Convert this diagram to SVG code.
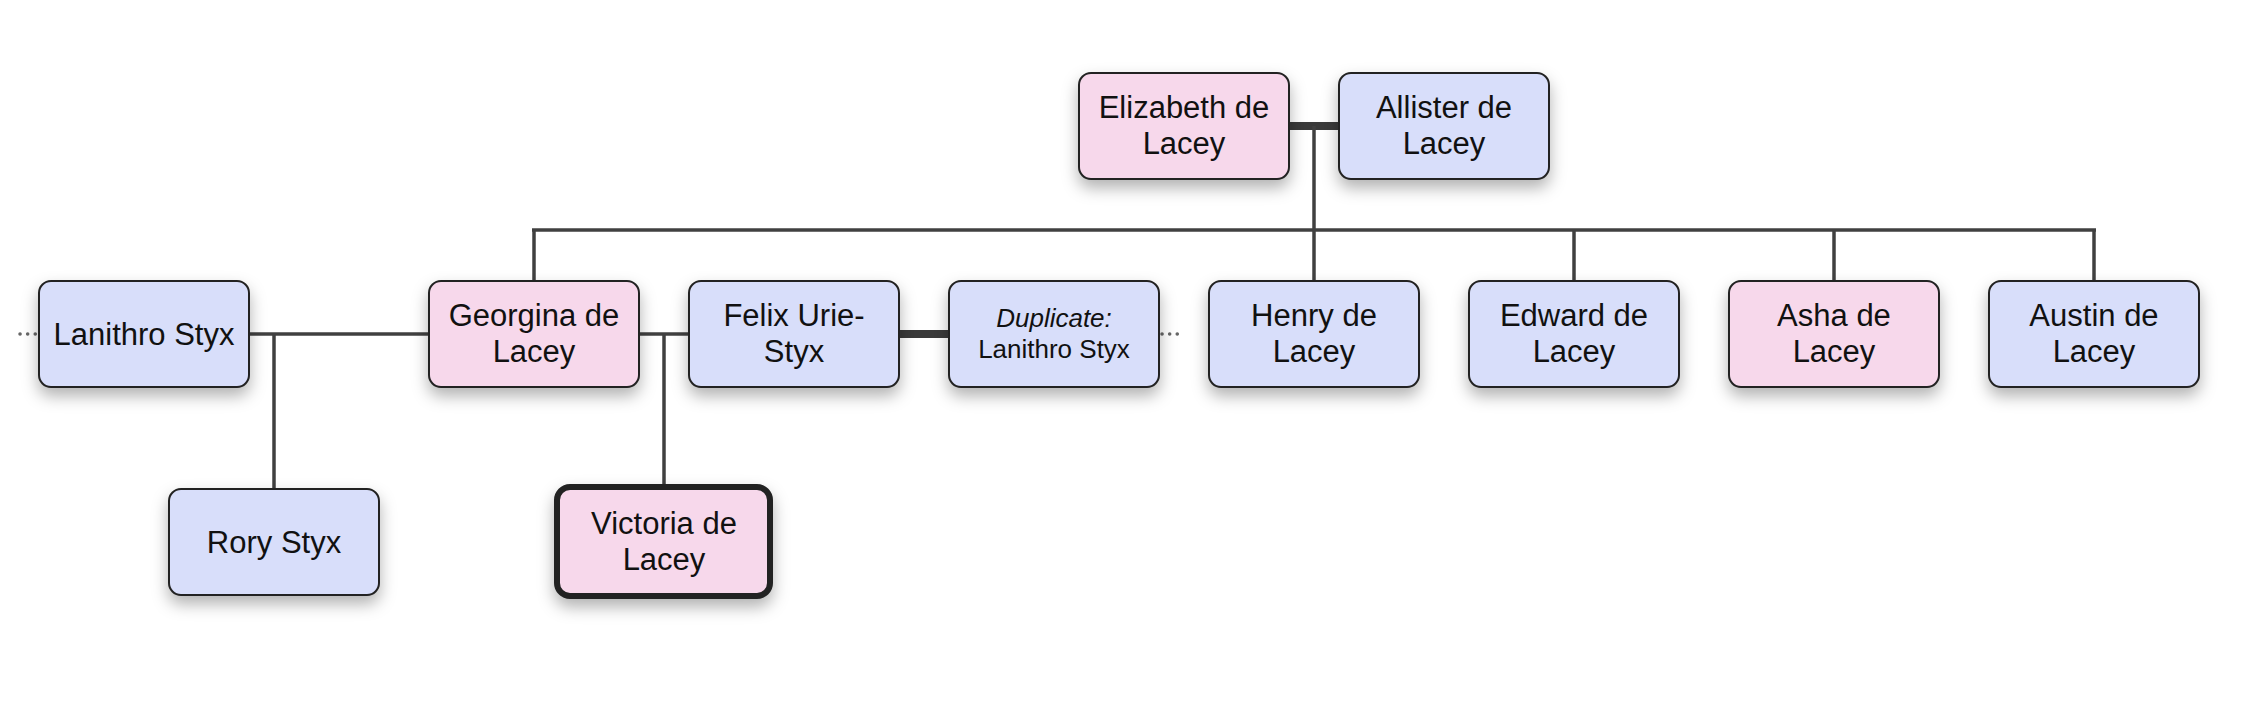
<svg xmlns="http://www.w3.org/2000/svg" width="2248" height="718" viewBox="0 0 2248 718">
<defs>
<filter id="sh" x="-20%" y="-20%" width="140%" height="160%">
<feDropShadow dx="0" dy="8" stdDeviation="8" flood-color="#000" flood-opacity="0.3"/>
</filter>
</defs>
<style>
.box{stroke:#222;stroke-width:2;filter:url(#sh)}
.pink{fill:#f7d8eb}
.blue{fill:#d8defa}
.sel{stroke-width:6}
.t{font-family:"Liberation Sans",Arial,sans-serif;font-size:31px;fill:#111;text-anchor:middle}
.s{font-size:26px}
.i{font-style:italic}
.ln{stroke:#404040;stroke-width:3.5;fill:none}
.cp{stroke:#3a3a3a;stroke-width:8;fill:none}
.dot{stroke:#666;stroke-width:3.5;stroke-linecap:round;stroke-dasharray:0.1 7.5;fill:none}
</style>
<rect width="2248" height="718" fill="#fff"/>
<g id="connectors">
<line class="cp" x1="1289" y1="126" x2="1339" y2="126"/>
<line class="ln" x1="1314" y1="126" x2="1314" y2="230"/>
<line class="ln" x1="532" y1="230" x2="2096" y2="230"/>
<line class="ln" x1="534" y1="230" x2="534" y2="281"/>
<line class="ln" x1="1314" y1="230" x2="1314" y2="281"/>
<line class="ln" x1="1574" y1="230" x2="1574" y2="281"/>
<line class="ln" x1="1834" y1="230" x2="1834" y2="281"/>
<line class="ln" x1="2094" y1="230" x2="2094" y2="281"/>
<line class="ln" x1="248" y1="334" x2="429" y2="334"/>
<line class="ln" x1="274" y1="334" x2="274" y2="489"/>
<line class="ln" x1="639" y1="334" x2="689" y2="334"/>
<line class="ln" x1="664" y1="334" x2="664" y2="486"/>
<line class="cp" x1="899" y1="334" x2="949" y2="334"/>
<line class="dot" x1="20" y1="334" x2="36" y2="334"/>
<line class="dot" x1="1162" y1="334" x2="1178" y2="334"/>
</g>
<g id="elizabeth"><rect class="box pink" x="1079" y="73" width="210" height="106" rx="12"/><text class="t" x="1184" y="118">Elizabeth de</text><text class="t" x="1184" y="154">Lacey</text></g>
<g id="allister"><rect class="box blue" x="1339" y="73" width="210" height="106" rx="12"/><text class="t" x="1444" y="118">Allister de</text><text class="t" x="1444" y="154">Lacey</text></g>
<g id="lanithro"><rect class="box blue" x="39" y="281" width="210" height="106" rx="12"/><text class="t" x="144" y="345">Lanithro Styx</text></g>
<g id="georgina"><rect class="box pink" x="429" y="281" width="210" height="106" rx="12"/><text class="t" x="534" y="326">Georgina de</text><text class="t" x="534" y="362">Lacey</text></g>
<g id="felix"><rect class="box blue" x="689" y="281" width="210" height="106" rx="12"/><text class="t" x="794" y="326">Felix Urie-</text><text class="t" x="794" y="362">Styx</text></g>
<g id="duplicate"><rect class="box blue" x="949" y="281" width="210" height="106" rx="12"/><text class="t s i" x="1054" y="327">Duplicate:</text><text class="t s" x="1054" y="358">Lanithro Styx</text></g>
<g id="henry"><rect class="box blue" x="1209" y="281" width="210" height="106" rx="12"/><text class="t" x="1314" y="326">Henry de</text><text class="t" x="1314" y="362">Lacey</text></g>
<g id="edward"><rect class="box blue" x="1469" y="281" width="210" height="106" rx="12"/><text class="t" x="1574" y="326">Edward de</text><text class="t" x="1574" y="362">Lacey</text></g>
<g id="asha"><rect class="box pink" x="1729" y="281" width="210" height="106" rx="12"/><text class="t" x="1834" y="326">Asha de</text><text class="t" x="1834" y="362">Lacey</text></g>
<g id="austin"><rect class="box blue" x="1989" y="281" width="210" height="106" rx="12"/><text class="t" x="2094" y="326">Austin de</text><text class="t" x="2094" y="362">Lacey</text></g>
<g id="rory"><rect class="box blue" x="169" y="489" width="210" height="106" rx="12"/><text class="t" x="274" y="553">Rory Styx</text></g>
<g id="victoria"><rect class="box pink sel" x="557" y="487" width="213" height="109" rx="13"/><text class="t" x="664" y="534">Victoria de</text><text class="t" x="664" y="570">Lacey</text></g>
</svg>
